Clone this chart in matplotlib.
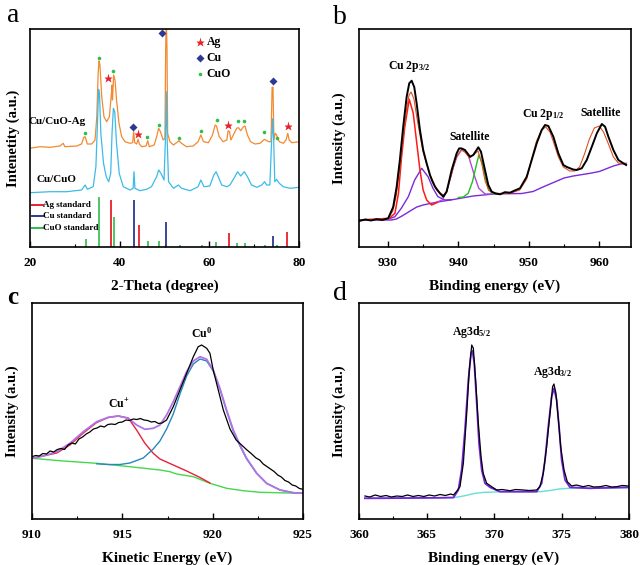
import matplotlib.pyplot as plt
from matplotlib.ticker import MultipleLocator

plt.rcParams['font.family'] = ['Liberation Serif', 'DejaVu Serif']
plt.rcParams['font.weight'] = 'bold'
plt.rcParams['mathtext.fontset'] = 'custom'
plt.rcParams['mathtext.rm'] = 'Liberation Serif:bold'
plt.rcParams['mathtext.it'] = 'Liberation Serif:bold'
plt.rcParams['mathtext.bf'] = 'Liberation Serif:bold'

# ---------------- panel a: XRD ----------------
xrd_ag_x = [20.0, 22.2, 24.5, 26.7, 27.4, 27.8, 30.4, 31.5, 32.0, 32.3, 32.8, 33.75, 34.5, 34.9, 35.2, 35.4,
            35.6, 36.0, 36.5, 37.1, 37.7, 38.1, 38.3, 38.4, 38.66, 38.96, 39.3, 39.85, 40.45, 41.2, 42.3,
            42.9, 43.12, 43.35, 43.8, 44.1, 44.4, 44.9, 45.9, 46.25, 46.6, 47.7, 48.25, 48.7, 49.1, 49.7,
            50.1, 50.26, 50.4, 50.56, 50.7, 51.2, 52.0, 52.7, 53.2, 53.8, 54.9, 56.4, 57.5, 58.1, 58.7,
            59.8, 60.7, 61.3, 61.6, 62.2, 63.1, 63.9, 64.2, 64.5, 64.8, 65.35, 66.1, 66.5, 67.0, 67.6,
            67.95, 68.5, 69.2, 70.2, 71.3, 72.3, 73.2, 73.75, 74.0, 74.2, 74.4, 74.7, 75.0, 75.6, 76.5,
            77.1, 77.5, 77.8, 78.4, 80.0]
xrd_ag_y = [98.7, 100.3, 99.7, 101, 103.7, 100.3, 101, 103, 109.7, 110.3, 103, 103, 107, 130.3, 173.7, 186,
            182, 150.3, 130.3, 125.3, 130.3, 150.3, 162, 147, 172, 167, 147, 123.7, 110.3, 105.3, 103.7,
            104.3, 115.3, 104.3, 103, 107.7, 103, 100.3, 101, 106.3, 100.3, 102, 110.3, 118.7, 115.3, 107,
            108.7, 197, 230, 197, 113.7, 105.3, 102, 104.3, 106.3, 103.7, 100.3, 101, 105.3, 112, 105.3,
            104.3, 112, 122, 121, 110.3, 105.3, 107, 116.3, 115.3, 107, 112, 118.7, 119.3, 116.3, 120.3,
            121, 112, 105.3, 103, 103.7, 107.7, 105.3, 105.3, 159.7, 159.7, 107, 113.7, 112, 105.3, 103.7,
            107, 113.7, 107, 104.3, 105.3]

xrd_cu_x = [20.0, 24.5, 28.2, 31.5, 32.3, 32.8, 34.1, 34.7, 35.1, 35.3, 35.5, 35.8, 36.4, 37.0, 37.55,
            38.0, 38.3, 38.6, 38.9, 39.3, 39.9, 40.8, 42.3, 43.0, 43.2, 43.4, 44.5, 46.0, 47.1, 48.25,
            48.7, 49.2, 49.9, 50.2, 50.4, 50.6, 50.9, 52.0, 53.1, 53.8, 55.7, 57.5, 58.1, 58.8, 60.1,
            61.0, 61.5, 62.0, 62.75, 63.9, 64.6, 65.7, 66.3, 67.0, 67.8, 68.5, 69.4, 70.6, 71.7, 72.3,
            72.8, 73.5, 73.9, 74.1, 74.35, 74.6, 75.0, 75.6, 76.5, 78.0, 80.0]
xrd_cu_y = [54.3, 55.3, 55.3, 57, 62, 57.7, 60.3, 80.3, 130.3, 157.7, 153.7, 113.7, 83.7, 70.3, 65.3,
            73.7, 113.7, 138.7, 135.3, 103.7, 73.7, 60.3, 57, 58.7, 75.3, 58.7, 56.3, 57.7, 60.3, 70.3,
            77, 73.7, 67, 107, 155.3, 107, 65.3, 58.7, 62, 58.7, 56.3, 60.3, 67, 60.3, 61,
            72, 75.3, 70.3, 62, 60.3, 62, 70.3, 75.3, 71, 75.3, 70.3, 62, 59.7, 62, 65.3,
            62, 62, 107, 128.3, 107, 65.3, 67.7, 63.7, 60.3, 58.7, 59.7]

std_ag_x = [38.1, 44.3, 64.4, 77.4]
std_ag_h = [47, 21.5, 14, 14.5]
std_cu_x = [43.3, 50.4, 74.1]
std_cu_h = [47, 25, 11]
std_cuo_x = [32.5, 35.5, 38.7, 46.3, 48.7, 53.5, 58.3, 61.5, 66.2, 68.0, 72.4, 75.0]
std_cuo_h = [8, 50, 30, 6, 6, 2, 2, 4.5, 3.5, 3.5, 2, 2]

mark_ag_x = [37.5, 44.1, 64.2, 77.5]
mark_ag_y = [169.3, 113, 122.3, 121]
mark_cu_x = [43.0, 49.5, 74.1]
mark_cu_y = [120.3, 213.7, 166]
mark_cuo_x = [32.3, 35.4, 38.6, 46.1, 48.8, 53.3, 58.1, 61.6, 66.3, 67.8, 72.2, 75.1]
mark_cuo_y = [114.3, 189, 176.3, 109.7, 121.7, 109, 115.7, 127, 125.7, 125.7, 115, 109.3]

# ---------------- panel b: Cu 2p ----------------
b_exp_e = [925.9, 926.8, 927.6, 928.4, 929.2, 930.04, 930.75, 931.24, 931.7, 932.17, 932.66, 933.03, 933.37,
           933.74, 934.08, 934.55, 935.01, 935.5, 935.97, 936.3, 936.68, 937.0, 937.39, 937.86, 938.34,
           939.05, 939.76, 940.1, 940.37, 940.94, 941.65, 942.12, 942.83, 943.21, 943.78, 944.25, 944.73,
           945.3, 945.91, 946.6, 947.33, 948.0, 948.75, 949.7, 950.41, 951.12, 951.83, 952.3, 952.77,
           953.48, 954.19, 954.9, 955.4, 955.85, 956.3, 956.8, 957.51, 958.22, 958.94, 959.65, 960.36,
           960.82, 961.29, 962.0, 962.71, 963.42, 963.81]
b_exp_y = [26, 27.5, 26.5, 27.8, 27, 28.7, 40, 60, 87, 120, 150, 163.7, 166.3,
           160, 143.7, 117, 97, 83.7, 72, 66, 60.3, 57, 53.7, 50.3, 55.3,
           77, 93.7, 98.5, 98.7, 97, 90.3, 92, 99.7, 95.3, 77, 62, 55.3,
           53.5, 52.7, 54.8, 54.3, 56.5, 58.7, 70.3, 87, 103.7, 117, 122, 121,
           110.3, 93.7, 82, 80, 78.7, 77.5, 77, 78.7, 87, 100.3, 113.7, 123,
           120.3, 110.3, 97, 87, 83.7, 82]
b_fit_e = [925.9, 930.0, 930.7, 931.2, 931.7, 932.2, 932.7, 933.0, 933.3, 933.7, 934.1, 934.6, 935.0, 935.5,
           936.0, 936.7, 937.4, 937.9, 938.3, 939.0, 939.7, 940.4, 940.9, 941.6, 942.1, 942.8, 943.3, 943.8,
           944.3, 945.0, 946.0, 947.5, 948.7, 949.7, 950.4, 951.1, 951.8, 952.4, 953.0, 953.5, 954.2, 954.9,
           955.8, 956.5, 957.2, 957.9, 958.6, 959.3, 960.0, 960.6, 961.3, 962.0, 962.7, 963.4, 963.8]
b_fit_y = [27, 28, 36, 52, 80, 112, 140, 152, 155, 148, 130, 110, 95, 83,
           72, 61, 54, 52, 55, 72, 90, 97, 95, 89, 92, 96, 84, 66,
           57, 54, 53.5, 54, 57, 68, 88, 106, 117, 120, 115, 105, 90, 80,
           76, 76, 80, 93, 108, 119, 121, 115, 103, 90, 84, 83, 83]
b_bg_e = [925.9, 930.5, 931.2, 932.0, 932.7, 933.5, 934.1, 935.0, 936.0, 937.5, 939.3, 942.1, 945.0, 949.0,
          950.6, 952.0, 953.0, 954.0, 955.0, 956.3, 958.7, 960.0, 961.1, 962.0, 963.0, 963.8]
b_bg_y = [27, 27, 28, 31, 34, 37.5, 40, 42, 43.5, 45.5, 47.5, 51, 53, 53.5,
          55.5, 60, 63, 66, 69, 71, 73.7, 75.5, 78.5, 81, 83, 83.7]
b_main_e = [925.9, 930.2, 931.0, 931.5, 931.9, 932.4, 933.03, 933.6, 934.1, 934.55, 935.0, 935.5, 936.2, 937.0]
b_main_y = [27, 28.7, 33.7, 53.7, 87, 120.3, 147.7, 133.7, 103.7, 77, 57, 47, 42, 44.5]
b_shoulder_e = [930.3, 931.0, 931.9, 932.9, 933.8, 934.8, 935.7, 936.4, 937.1, 938.1, 939.0]
b_shoulder_y = [28.5, 30.3, 38.7, 50.3, 67, 78.7, 70.3, 58.7, 50.3, 47, 47.3]
b_sat1_e = [936.8, 937.7, 938.3, 938.8, 939.3, 939.8, 940.6, 941.4, 941.9, 942.4, 942.9, 943.8, 944.6]
b_sat1_y = [44.5, 47, 55.3, 67, 80.3, 90.3, 98.7, 92, 80.3, 68.7, 58.7, 53, 53]
b_sat2_e = [940.0, 940.7, 941.4, 942.0, 942.5, 942.9, 943.4, 943.9, 944.3, 944.9, 945.6]
b_sat2_y = [49.5, 50, 53.7, 65.3, 80.3, 92, 83.7, 67, 57, 53.5, 53]

# ---------------- panel c: Cu LMM ----------------
c_exp_e = [910.0, 910.2, 910.4, 910.6, 910.8, 911.0, 911.2, 911.4, 911.6, 911.8, 912.0, 912.2, 912.4, 912.6,
           912.8, 913.0, 913.2, 913.4, 913.6, 913.8, 914.0, 914.2, 914.4, 914.6, 914.8, 915.0, 915.2,
           915.4, 915.6, 915.8, 916.0, 916.2, 916.4, 916.6, 916.8, 917.0, 917.2, 917.45, 917.82, 918.19,
           918.56, 918.93, 919.2, 919.39, 919.67, 919.85, 920.03, 920.31, 920.59, 920.96, 921.3, 921.6,
           921.9, 922.1, 922.4, 922.6, 922.8, 923.0, 923.2, 923.4, 923.6, 923.8, 924.0, 924.2, 924.4,
           924.6, 924.8, 925.0]
c_exp_y = [62.3, 63.5, 63, 65.5, 65, 68, 67, 69.5, 70.5, 69.5, 74, 76, 75, 80,
           82, 85, 87, 90, 91, 93, 92, 94.5, 95, 94.5, 96.5, 97, 99,
           98.5, 100, 99.5, 100.5, 99, 98.5, 97, 97.5, 95.5, 96, 99, 112.3, 129,
           145.7, 162.3, 172.3, 174, 170.7, 165.7, 149, 129, 109, 90, 79, 74,
           69, 66, 61, 59, 55, 52.5, 50, 47.5, 44, 42, 38.5, 37, 34,
           33, 30.5, 29.7]
c_fit_e = [910.0, 910.63, 911.37, 912.1, 912.84, 913.58, 914.22, 914.78, 915.33, 915.79, 916.25, 916.71,
           917.08, 917.45, 917.82, 918.19, 918.56, 918.93, 919.3, 919.67, 920.03, 920.4, 920.77, 921.14,
           921.51, 921.88, 922.44, 922.99, 923.73, 924.46, 925.0]
c_fit_y = [60.7, 63, 67.3, 75.7, 87.3, 97.3, 101.7, 103, 100.7, 94, 89.7, 90.7,
           94, 104, 117.3, 132.3, 147.3, 158, 162.3, 159.7, 149, 130.7, 109, 89,
           74, 60.7, 45.7, 35.7, 29, 26.3, 25.7]
c_bg_e = [910.0, 911.73, 913.58, 915.42, 917.08, 917.64, 918.0, 918.93, 919.85, 920.77, 921.69, 922.62,
          923.54, 925.0]
c_bg_y = [60.7, 58, 55.7, 52.3, 49, 47.3, 45, 42.3, 35.7, 30.7, 28.3, 26.7, 26.3, 25.7]
c_cu1_e = [910.0, 911.37, 912.1, 912.84, 913.58, 914.22, 914.78, 915.33, 915.79, 916.25, 916.71, 917.08,
           917.82, 918.56, 919.3, 919.85]
c_cu1_y = [60.7, 66, 74, 86, 96.5, 101.5, 103, 101, 89, 75.7, 65.7, 60,
           54, 48, 41.5, 36]
c_cu0_e = [913.58, 914.22, 914.87, 915.42, 916.16, 916.71, 917.08, 917.45, 917.82, 918.19, 918.56, 918.93,
           919.3, 919.67, 920.03, 920.4, 920.77, 921.14, 921.51, 921.88, 922.44, 922.99, 923.73, 924.46, 925.0]
c_cu0_y = [55.2, 54.5, 54.5, 56, 61, 70, 78, 90, 105, 125, 143, 155,
           160, 158, 148, 130, 108, 88, 73, 60, 45.5, 35.5, 29, 26.3, 25.7]

# ---------------- panel d: Ag 3d ----------------
d_exp_e = [360.44, 360.8, 361.2, 361.6, 362.0, 362.4, 362.8, 363.2, 363.6, 364.0, 364.4, 364.8, 365.2,
           365.6, 366.0, 366.4, 366.8, 367.0, 367.25, 367.48, 367.73, 367.98, 368.17, 368.35, 368.47,
           368.64, 368.84, 369.04, 369.2, 369.46, 369.83, 370.2, 370.6, 371.19, 371.6, 372.17, 372.6,
           373.16, 373.4, 373.65, 373.9, 374.15, 374.34, 374.44, 374.59, 374.77, 374.94, 375.19, 375.43,
           375.75, 376.1, 376.6, 377.0, 377.4, 377.85, 378.3, 378.7, 379.09, 379.5, 379.95]
d_exp_y = [23, 22, 24, 22.5, 23.5, 22, 23, 22.5, 24, 22.5, 23.5, 22.5, 24,
           23, 24.5, 23.5, 25, 24, 28, 32.3, 55.7, 105.7, 149, 174, 170.7,
           139, 95.7, 62.3, 45.7, 35.7, 32.3, 29, 29.5, 28.3, 29.5, 29, 28.5,
           29, 32.3, 45.7, 72.3, 105.7, 132.3, 135, 125.7, 99, 72.3, 49, 37.3,
           33, 34, 32.3, 33.5, 32, 32.3, 33.5, 32, 32.3, 33.5, 33]
d_fit_e = [360.44, 362.0, 364.0, 366.0, 367.0, 367.36, 367.6, 367.85, 368.1, 368.3, 368.4, 368.54, 368.72,
           368.89, 369.09, 369.33, 369.7, 370.44, 372.0, 373.16, 373.53, 373.78, 374.02, 374.27, 374.44,
           374.64, 374.84, 375.01, 375.26, 375.63, 377.1, 379.95]
d_fit_y = [20.7, 20.8, 21, 21.2, 21.5, 29, 49, 89, 139, 165.7, 168.3, 155.7, 115.7,
           75.7, 49, 35.7, 31.7, 27.3, 27.3, 27.3, 35.7, 59, 92.3, 122.3, 130.7,
           119, 89, 59, 39, 31.7, 30.7, 31.7]
d_bg_e = [360.44, 367.0, 367.85, 368.6, 369.33, 370.5, 373.4, 374.15, 374.8, 375.5, 379.95]
d_bg_y = [20.7, 21.3, 23.3, 25.7, 26.7, 27.2, 27.3, 28.5, 30, 30.7, 31.2]

fig = plt.figure(figsize=(6.4, 5.65), dpi=100)
ax_a = fig.add_axes([30/640, 1-247/565, 269/640, 218/565])
ax_b = fig.add_axes([359/640, 1-247/565, 272/640, 218/565])
ax_c = fig.add_axes([32/640, 1-519/565, 271/640, 216/565])
ax_d = fig.add_axes([359/640, 1-519/565, 270/640, 216/565])


def style(ax, xlabel, ylabel, major, minor, ypad=9):
    for s in ax.spines.values():
        s.set_linewidth(1.2)
    ax.set_yticks([])
    ax.xaxis.set_major_locator(MultipleLocator(major))
    ax.xaxis.set_minor_locator(MultipleLocator(minor))
    ax.tick_params(axis='x', which='major', direction='in', length=4, width=1, labelsize=9.5, pad=7)
    ax.tick_params(axis='x', which='minor', direction='in', length=2.5, width=0.8)
    ax.set_xlabel(xlabel, fontsize=11, fontweight='bold', labelpad=8)
    ax.set_ylabel(ylabel, fontsize=10.5, fontweight='bold', labelpad=ypad)


# panel a
ax_a.plot(xrd_ag_x, xrd_ag_y, color='#F28A30', lw=0.9)
ax_a.plot(xrd_cu_x, xrd_cu_y, color='#3CBBE8', lw=0.9)
ax_a.vlines(std_cuo_x, 0, std_cuo_h, colors='#2DBE4B', lw=1.2)
ax_a.vlines(std_ag_x, 0, std_ag_h, colors='#E8202A', lw=1.3)
ax_a.vlines(std_cu_x, 0, std_cu_h, colors='#2B3990', lw=1.3)
ax_a.plot(mark_cuo_x, mark_cuo_y, 'o', color='#2DBE4B', ms=2.6, mec='none')
ax_a.plot(mark_ag_x, mark_ag_y, '*', color='#E8202A', ms=6.5, mec='none')
ax_a.plot(mark_cu_x, mark_cu_y, 'D', color='#2B3990', ms=3.8, mec='none')
ax_a.set_xlim(20, 80)
ax_a.set_ylim(0, 218)
style(ax_a, '2-Theta (degree)', 'Intenetity (a.u.)', 20, 10, ypad=7)

sym_style = [('*', '#E8202A', 6.5, 'Ag'), ('D', '#2B3990', 3.8, 'Cu'), ('o', '#2DBE4B', 2.6, 'CuO')]
for i, (m, c, s, lab) in enumerate(sym_style):
    yy = 204.7 - i * 15.8
    ax_a.plot([57.9], [yy], m, color=c, ms=s, mec='none')
    ax_a.text(59.4, yy, lab, fontsize=8.5, va='center', ha='left')

std_style = [('#E8202A', 'Ag standard'), ('#2B3990', 'Cu standard'), ('#2DBE4B', 'CuO standard')]
for i, (c, lab) in enumerate(std_style):
    yy = 42 - i * 11.3
    ax_a.plot([20.4, 23.0], [yy, yy], color=c, lw=1.4)
    ax_a.text(23.0, yy, lab, fontsize=6.5, va='center', ha='left')

ax_a.text(26.0, 125.3, 'Cu/CuO-Ag', fontsize=8, ha='center', va='center')
ax_a.text(26.0, 67, 'Cu/CuO', fontsize=8, ha='center', va='center')

# panel b
ax_b.plot(b_bg_e, b_bg_y, color='#7A2BD6', lw=1.0)
ax_b.plot(b_shoulder_e, b_shoulder_y, color='#7A2BD6', lw=1.0)
ax_b.plot(b_sat1_e, b_sat1_y, color='#B048E0', lw=1.0)
ax_b.plot(b_sat2_e, b_sat2_y, color='#22C022', lw=1.0)
ax_b.plot(b_main_e, b_main_y, color='#FF1A1A', lw=1.1)
ax_b.plot(b_fit_e, b_fit_y, color='#E05020', lw=0.8)
ax_b.plot(b_exp_e, b_exp_y, color='black', lw=1.4)
ax_b.set_xlim(925.9, 964.5)
ax_b.set_ylim(0, 218)
style(ax_b, 'Binding energy (eV)', 'Intensity (a.u.)', 10, 5)
ax_b.text(933.1, 180, 'Cu 2p$_{3/2}$', fontsize=8.5, ha='center', va='center')
ax_b.text(941.6, 110, 'Satellite', fontsize=8.5, ha='center', va='center')
ax_b.text(952.0, 132, 'Cu 2p$_{1/2}$', fontsize=8.5, ha='center', va='center')
ax_b.text(960.2, 133.7, 'Satellite', fontsize=8.5, ha='center', va='center')

# panel c
ax_c.plot(c_bg_e, c_bg_y, color='#44D84A', lw=1.0)
ax_c.plot(c_cu1_e, c_cu1_y, color='#E8203A', lw=1.0)
ax_c.plot(c_cu0_e, c_cu0_y, color='#2A86C0', lw=1.0)
ax_c.plot(c_fit_e, c_fit_y, color='#B274E4', lw=1.3)
ax_c.plot(c_exp_e, c_exp_y, color='black', lw=0.9)
ax_c.set_xlim(910, 925)
ax_c.set_ylim(0, 216)
style(ax_c, 'Kinetic Energy (eV)', 'Intensity (a.u.)', 5, 2.5)
ax_c.text(914.8, 115, 'Cu$^{+}$', fontsize=8.5, ha='center', va='center')
ax_c.text(919.4, 186, 'Cu$^{0}$', fontsize=8.5, ha='center', va='center')

# panel d
ax_d.plot(d_bg_e, d_bg_y, color='#66E0D2', lw=1.0)
ax_d.plot(d_fit_e, d_fit_y, color='#7422E2', lw=1.3)
ax_d.plot(d_exp_e, d_exp_y, color='black', lw=0.9)
ax_d.set_xlim(360, 380)
ax_d.set_ylim(0, 216)
style(ax_d, 'Binding energy (eV)', 'Intensity (a.u.)', 5, 2.5)
ax_d.text(368.3, 187.3, 'Ag3d$_{5/2}$', fontsize=8.5, ha='center', va='center')
ax_d.text(374.35, 147.3, 'Ag3d$_{3/2}$', fontsize=8.5, ha='center', va='center')

fig.text(13/640, 1-16/565, 'a', fontsize=20, fontweight='normal', ha='center', va='center')
fig.text(340/640, 1-18/565, 'b', fontsize=20, fontweight='normal', ha='center', va='center')
fig.text(13/640, 1-297/565, 'c', fontsize=18, fontweight='bold', ha='center', va='center')
fig.text(340/640, 1-294/565, 'd', fontsize=20, fontweight='normal', ha='center', va='center')

fig.savefig('out.png', dpi=100)
